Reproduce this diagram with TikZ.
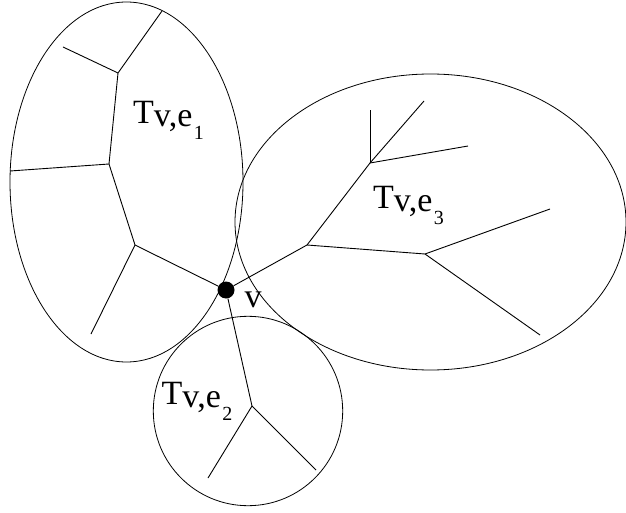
\documentclass[tikz,border=0pt]{standalone}
\usepackage{fontspec}
\setmainfont{Liberation Serif}
\usepackage{tikz}
\usetikzlibrary{positioning}
\newcommand{\tname}[1]{T\raisebox{-3pt}{v,e}\kern1.5pt\raisebox{-16pt}{\fontsize{20}{20}\selectfont #1}}
\tikzset{
  region/.style={draw, line width=0.8pt},
  edge/.style={line width=0.9pt},
  vertex/.style={circle, fill=black, inner sep=0pt, minimum size=17pt},
  lbl/.style={inner sep=0pt, anchor=base west, font=\fontsize{34}{36}\selectfont}
}
\begin{document}
\begin{tikzpicture}[x=1pt, y=-1pt]
  \useasboundingbox (0,0) rectangle (626,513);

  % the three regions
  \draw[region] (126.5,182) ellipse [x radius=116.5pt, y radius=180pt];
  \draw[region] (430.5,222) ellipse [x radius=195.5pt, y radius=148pt];
  \draw[region] (248,411) circle [radius=94.7pt];

  \node[vertex] (v) at (226,290) {};

  % tree in e1
  \coordinate (a1) at (135,245);
  \coordinate (a2) at (91,334);
  \coordinate (a3) at (109,164);
  \coordinate (a4) at (10,171);
  \coordinate (a5) at (118,73);
  \coordinate (a6) at (63,47);
  \coordinate (a7) at (162,11);
  % tree in e3
  \coordinate (b1) at (307,245);
  \coordinate (b2) at (370,163);
  \coordinate (b3) at (370,110);
  \coordinate (b4) at (468,146);
  \coordinate (b5) at (424,101);
  \coordinate (b6) at (425,254);
  \coordinate (b7) at (550,209);
  \coordinate (b8) at (540,335);
  % tree in e2
  \coordinate (c1) at (252,406);
  \coordinate (c2) at (208,478);
  \coordinate (c3) at (316,470);

  \draw[edge] (v) -- (a1);
  \draw[edge] (a1) -- (a2);
  \draw[edge] (a1) -- (a3);
  \draw[edge] (a3) -- (a4);
  \draw[edge] (a3) -- (a5);
  \draw[edge] (a5) -- (a6);
  \draw[edge] (a5) -- (a7);

  \draw[edge] (v) -- (b1);
  \draw[edge] (b1) -- (b2);
  \draw[edge] (b2) -- (b3);
  \draw[edge] (b2) -- (b4);
  \draw[edge] (b2) -- (b5);
  \draw[edge] (b1) -- (b6);
  \draw[edge] (b6) -- (b7);
  \draw[edge] (b6) -- (b8);

  \draw[edge] (v) -- (c1);
  \draw[edge] (c1) -- (c2);
  \draw[edge] (c1) -- (c3);

  % labels
  \node[lbl] (t1) at (133,124) {\tname{1}};
  \node[lbl] (t3) at (373,208) {\tname{3}};
  \node[lbl] (t2) at (161.5,404) {\tname{2}};
  \node[lbl] (vl) at (244.5,307) {v};
\end{tikzpicture}
\end{document}
